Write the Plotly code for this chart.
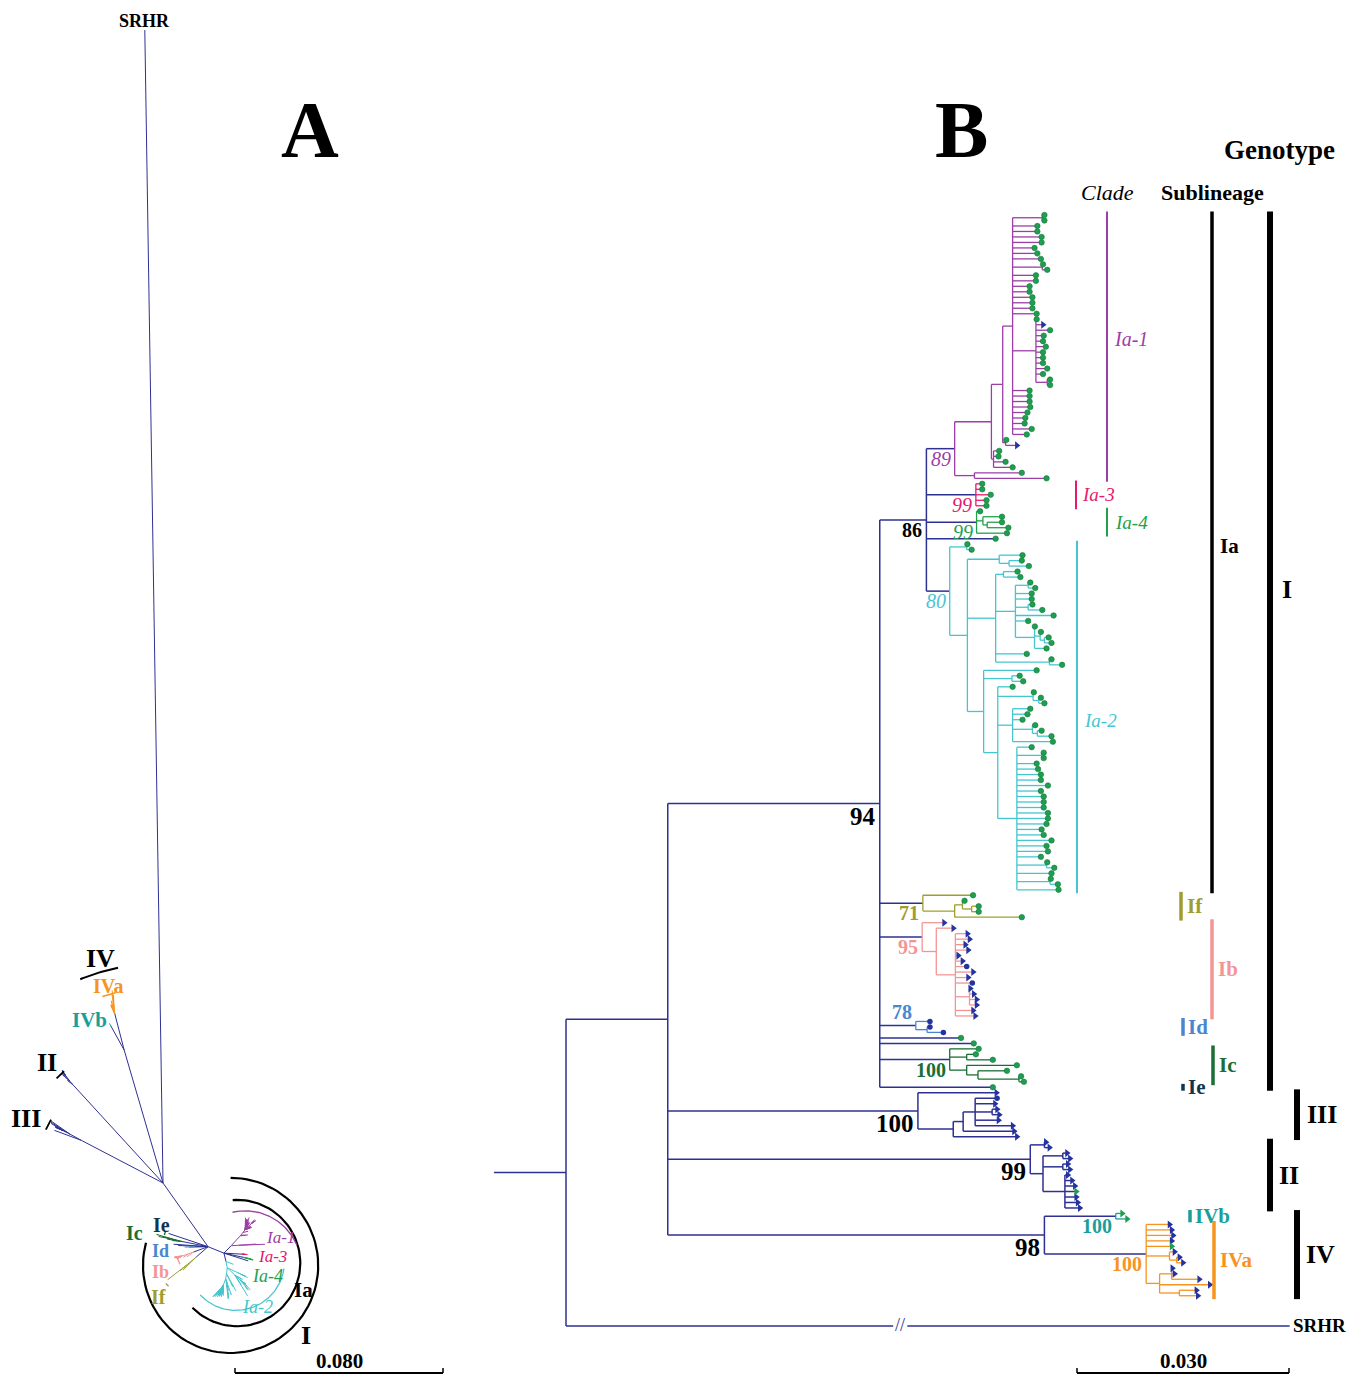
import math
import plotly.graph_objects as go

W, H = 1366, 1378

# ======================= DATA =======================
# Branch lengths in 0.001 substitutions/site; internal-node labels are bootstrap values (%).
# Tip codes: g = green circle, b = blue circle, t = blue triangle, G = green triangle
clade_Ia1 = ("(((((g:0.3,g:0.3):4.2,g:3.5,g:3.5,g:4.1,g:4.1,g:3.1,g:3.5,g:4.0,(g:0.1,g:0.7):4.2,"
             "g:3.3,g:3.3,g:2.4,g:2.4,g:2.8,g:2.8,g:2.8,g:3.4,"
             "(g:0.1,t:1.0,g:2.0,g:1.1,g:1.0,g:1.4,g:1.0,g:1.0,g:1.0,g:1.6,g:1.0,(g:0.4,g:0.4):1.6):3.3,"
             "g:2.4,g:2.4,g:2.4,g:2.5,g:2.1,g:1.8,g:1.7,g:2.7,g:2.0"
             "):1.4,(g:0.1,t:1.6):0.4):1.6,(g:0.8,g:0.7,g:1.7,g:2.7):0.3):5.2,(g:6.7,g:10.2):2.8)89:4.0")
clade_Ia3 = "(g:0.9,g:0.9,g:2.1,g:1.5,g:1.5)99:7.0"
clade_Ia4 = "(g:0.5,(g:2.7,(g:2.1,g:3.0):0.6):0.9,g:4.3)99:7.1"
clade_Ia2 = ("((g:0.1,g:0.7):2.4,("
             "(g:3.3,(g:1.8,g:2.8):1.4):4.5,"
             "((g:2.0,g:2.4):1.1,((g:0.3,g:1.0):1.8,g:2.3,g:2.3,(g:0.6,g:2.0):1.8,g:5.4,g:1.8,"
             "(g:0.05,(g:0.1,(g:0.6,g:1.0):0.6):0.8,g:1.7):2.7):2.8,g:4.4,(g:0.3,g:1.8):7.6):4.0,"
             "(g:7.5,(g:1.1,g:1.6):4.0,(g:2.1,(g:0.1,(g:0.3,g:0.8):0.8):5.0,"
             "(g:2.5,g:2.1,g:1.4,(g:0.4,(g:0.6,g:2.0):0.7):2.8,g:5.7):2.1,"
             "(g:2.1,(g:0.3,g:0.3):3.5,g:2.8,g:3.0,g:3.4,g:3.4,g:4.4,g:3.4,g:3.8,g:3.8,g:3.8,g:4.4,"
             "g:4.4,g:4.2,g:3.5,g:3.8,g:4.9,g:4.2,g:4.4,g:3.4,(g:0.1,g:1.1):4.2,g:4.9,(g:0.1,g:1.1):4.7,g:5.9):2.7"
             "):2.0):2.3"
             "):2.5)80:3.3")
clade_If = "(g:7.1,((g:0.3,(g:1.0,g:1.0):1.3):1.1,g:9.5):4.5)71:6.1"
clade_Ib = ("(t:3.1,(t:2.4,(t:1.7,t:2.0,t:1.4,t:1.8,t:0.4,t:1.0,b:1.6,t:2.5,t:1.8,b:2.4,"
            "(t:0.1,t:0.6,t:1.0,t:1.0):2.0,t:2.5,t:2.8):2.7):2.0)95:6.0")
clade_Id = "(b:2.0,(b:0.4,b:2.3):1.6)78:5.1"
clade_Ic = "(g:4.1,(g:1.3,g:3.7):2.4,(g:7.1,(g:4.1,(g:0.3,g:0.7):5.8):1.6):2.4)100:9.9"
clade_Ie = "g:16.0"
clade_III = "(t:11.1,(((b:3.1,t:2.8,(t:0.7,t:1.0):2.4,t:3.3,t:5.3):1.7,t:7.2):1.4,t:9.0):5.0)100:35.4"
clade_II = ("((t:0.2,t:0.7):2.0,((t:0.6,t:1.0):2.8,(t:0.7,t:1.0):2.8,"
            "(t:0.4,t:1.0,t:1.4,G:1.6,t:1.6,t:1.8,t:2.1):3.1):1.8)99:51.3")
clade_IVb = "(G:0.9,G:1.6)100:10.1"
clade_IVa = ("(t:3.3,t:3.6,t:3.8,t:3.6,G:3.6,(t:0.7,(t:0.4,t:0.9):1.0):3.3,"
             "((t:0.1,t:0.4,t:3.9):1.7,t:7.1,(t:2.4,t:2.6):2.8):1.9)100:14.4")
backbone = ("((((Ia-1,Ia-3,Ia-4,g:9.8,Ia-2)86:6.6,If,Ib,Id,g:11.5,g:13.3,Ic,Ie)94:30.0,"
            "III,II,(IVb,IVa)98:53.3):14.4,SRHR:429.1)")

clade_names = ["Ia-1", "Ia-3", "Ia-4", "Ia-2", "If", "Ib", "Id", "Ic", "Ie", "III", "II", "IVb", "IVa"]
clade_trees = [clade_Ia1, clade_Ia3, clade_Ia4, clade_Ia2, clade_If, clade_Ib, clade_Id, clade_Ic,
               clade_Ie, clade_III, clade_II, clade_IVb, clade_IVa]
OUTGROUP = "SRHR"
scale_B = 0.030
scale_A = 0.080

# ======================= STYLE / LAYOUT =======================
NAVY = "#2E3192"
clade_colors = {"Ia-1": "#9B3FA6", "Ia-3": "#E8196A", "Ia-4": "#23A14A", "Ia-2": "#45C6CF",
                "If": "#9E9E30", "Ib": "#F49595", "Id": "#4A86D0", "Ic": "#1B6E35", "Ie": NAVY,
                "III": NAVY, "II": NAVY, "IVb": "#1A9E9A", "IVa": "#F7941D"}
label_colors = dict(clade_colors, Ie="#0F3553", III="black", II="black")
FONT = "Liberation Serif, Times New Roman, serif"

# panel B pixel geometry
B_ROOT_PX, B_PPU, B_TOP_PX, B_LEAF_PX = 566, 212 / 30.0, 215, 5.486
root_stub = 10.2          # drawn stub to the left of the root
srhr_cap = 102.4          # truncated outgroup branch in panel B
srhr_break = 47.3         # position of the "//" break
outgroup_gap = 4.5        # extra leaf slots before the outgroup
# panel A pixel geometry
A_O_PX, A_PPU = (163, 1183), 208 / 80.0
start_angle = 90.0


def parse(s):
    i = 0

    def node():
        nonlocal i
        n = {"ch": [], "name": "", "bl": 0.0, "clade": None}
        if s[i] == "(":
            i += 1
            n["ch"].append(node())
            while s[i] == ",":
                i += 1
                n["ch"].append(node())
            i += 1
        j = i
        while i < len(s) and s[i] not in ",():;":
            i += 1
        n["name"] = s[j:i]
        if i < len(s) and s[i] == ":":
            i += 1
            j = i
            while i < len(s) and s[i] not in ",();":
                i += 1
            n["bl"] = float(s[j:i])
        return n
    return node()


def tag(n, clade):
    n["clade"] = clade
    for c in n["ch"]:
        tag(c, clade)


subtrees = {}
for nm, nw in zip(clade_names, clade_trees):
    t = parse(nw)
    tag(t, nm)
    subtrees[nm] = t


def graft(n):
    new = []
    for c in n["ch"]:
        if not c["ch"] and c["name"] in subtrees:
            new.append(subtrees[c["name"]])
        else:
            graft(c)
            new.append(c)
    n["ch"] = new


root = parse(backbone)
graft(root)


def color_of(n):
    return clade_colors[n["clade"]] if n["clade"] else NAVY


# ---------------- panel B layout (rectangular) ----------------
leaf_list = []
cnt = [0.0]


def layout_b(n, x, parent):
    n["x"] = x
    n["parent"] = parent
    if not n["ch"]:
        if n["name"] == OUTGROUP:
            cnt[0] += outgroup_gap
        n["y"] = cnt[0]
        cnt[0] += 1
        leaf_list.append(n)
    else:
        for c in n["ch"]:
            bl = min(c["bl"], srhr_cap) if c["name"] == OUTGROUP else c["bl"]
            layout_b(c, x + bl, n)
        n["y"] = (n["ch"][0]["y"] + n["ch"][-1]["y"]) / 2


layout_b(root, 0.0, None)

segB = {}


def addseg(d, col, seg):
    d.setdefault(col, []).append(seg)


def draw_b(n):
    for c in n["ch"]:
        col = color_of(n)
        if c["name"] == OUTGROUP:
            addseg(segB, col, (n["x"], c["y"], srhr_break - 1.0, c["y"]))
            addseg(segB, col, (srhr_break + 1.0, c["y"], c["x"], c["y"]))
        else:
            addseg(segB, col, (n["x"], c["y"], c["x"], c["y"]))
        draw_b(c)
    if n["ch"]:
        addseg(segB, color_of(n), (n["x"], n["ch"][0]["y"], n["x"], n["ch"][-1]["y"]))


draw_b(root)
addseg(segB, NAVY, (-root_stub, root["y"], 0.0, root["y"]))

# ---------------- panel A layout (unrooted, equal-angle) ----------------
def nleaves(n):
    return 1 if not n["ch"] else sum(nleaves(c) for c in n["ch"])


segA = {}


def place_a(n, x, y, a0, a1):
    n["ax"], n["ay"] = x, y
    if not n["ch"]:
        return
    tot = nleaves(n)
    a = a0
    for c in reversed(n["ch"]):
        span = (a1 - a0) * nleaves(c) / tot
        th = math.radians(a + span / 2)
        cx, cy = x + c["bl"] * math.cos(th), y + c["bl"] * math.sin(th)
        addseg(segA, color_of(n), (x, y, cx, cy))
        place_a(c, cx, cy, a, a + span)
        a += span


ingroup, srhr = root["ch"][0], root["ch"][1]
ingroup["ax"], ingroup["ay"] = 0.0, 0.0
nbrs = [(srhr, ingroup["bl"] + srhr["bl"])] + [(c, c["bl"]) for c in reversed(ingroup["ch"])]
total = sum(nleaves(c) for c, _ in nbrs)
a = start_angle
for c, bl in nbrs:
    span = 360.0 * nleaves(c) / total
    th = math.radians(a + span / 2)
    cx, cy = bl * math.cos(th), bl * math.sin(th)
    addseg(segA, NAVY, (0, 0, cx, cy))
    place_a(c, cx, cy, a, a + span)
    a += span
GI = ingroup["ch"][0]

# ======================= FIGURE =======================
fig = go.Figure()


def add_lines(d, xa, ya, width_fn):
    for col, segs in d.items():
        xs, ys = [], []
        for x0, y0, x1, y1 in segs:
            xs += [x0, x1, None]
            ys += [y0, y1, None]
        fig.add_trace(go.Scatter(x=xs, y=ys, mode="lines", line=dict(color=col, width=width_fn(col)),
                                 xaxis=xa, yaxis=ya, hoverinfo="skip", showlegend=False))


add_lines(segA, "x", "y", lambda c: 1.0)
add_lines(segB, "x2", "y2", lambda c: 1.5 if c == NAVY else 1.3)

# arcs in panel A: (center, radius, angle0, angle1, color, width)
arcs_A = [((26.0, -31.7), 33.7, 165, 450, "black", 2.2),
          ((28.5, -30.8), 24.3, 225, 454, "black", 2.2),
          ((31.6, -32.3), 21.6, 23, 103, clade_colors["Ia-1"], 1.3),
          ((28.0, -30.3), 18.7, 223, 352, clade_colors["Ia-2"], 1.3),
          ("O", 84.6, 101.8, 112.1, "black", 2.0),
          ("O", 75.4, 104.0, 108.0, clade_colors["IVa"], 1.5),
          ("O", 57.4, 131.5, 135.5, "black", 1.8),
          ("O", 49.5, 150.5, 155.5, "black", 1.8),
          ("GI", 12.7, 198, 212, clade_colors["Ib"], 1.3),
          ("GI", 21.5, 221, 225, clade_colors["If"], 1.3),
          ("GI", 17.4, 160, 165, clade_colors["Ic"], 1.3)]
for cen, r, a0, a1, col, wd in arcs_A:
    if cen == "O":
        cx, cy = 0.0, 0.0
    elif cen == "GI":
        cx, cy = GI["ax"], GI["ay"]
    else:
        cx, cy = cen
    n = 80
    xs = [cx + r * math.cos(math.radians(a0 + (a1 - a0) * k / n)) for k in range(n + 1)]
    ys = [cy + r * math.sin(math.radians(a0 + (a1 - a0) * k / n)) for k in range(n + 1)]
    fig.add_trace(go.Scatter(x=xs, y=ys, mode="lines", line=dict(color=col, width=wd),
                             hoverinfo="skip", showlegend=False))

# tip markers in panel B
marker_styles = {"g": dict(symbol="circle", color="#1E9E50", size=5.5, line=dict(color="#137A3A", width=0.6)),
                 "b": dict(symbol="circle", color="#2433A0", size=5.5, line=dict(width=0)),
                 "t": dict(symbol="triangle-right", color="#2433A0", size=7, line=dict(width=0)),
                 "G": dict(symbol="triangle-right", color="#1E9E50", size=7, line=dict(width=0))}
for code, st in marker_styles.items():
    pts = [lf for lf in leaf_list if lf["name"] == code]
    fig.add_trace(go.Scatter(x=[p["x"] for p in pts], y=[p["y"] for p in pts], mode="markers",
                             marker=st, xaxis="x2", yaxis="y2", hoverinfo="skip", showlegend=False))

annotations = []
shapes = []


def txt(text, x, y, color="black", size=20, xanchor="center", yanchor="middle", xref="paper", yref="paper",
        xshift=0, yshift=0, bgcolor=None):
    d = dict(text=text, x=x, y=y, xref=xref, yref=yref, showarrow=False, xanchor=xanchor, yanchor=yanchor,
             xshift=xshift, yshift=yshift, borderpad=0, font=dict(family=FONT, size=size, color=color))
    if bgcolor:
        d["bgcolor"] = bgcolor
    annotations.append(d)


def P(xp, yp):
    return xp / W, 1 - yp / H


# bootstrap labels (panel B)
def boot(n):
    for c in n["ch"]:
        boot(c)
    if n["ch"] and n["name"]:
        big = n["parent"] is ingroup
        col = label_colors[n["clade"]] if n["clade"] else "black"
        t = n["name"]
        t = "<i>%s</i>" % t if (n["clade"] or "").startswith("Ia-") else "<b>%s</b>" % t
        above = n["name"] == "78"
        txt(t, n["x"], n["y"], col, 25 if big else 20, xanchor="right",
            yanchor="bottom" if above else "top", xref="x2", yref="y2", xshift=-3, yshift=2)


boot(root)

# group bars (panel B): label, clades, x(px), color, width(px), font size, style, label dx, label position
bars = [("Ia-1", ["Ia-1"], 1107, clade_colors["Ia-1"], 2, 20, "i", 6, 0.47),
        ("Ia-3", ["Ia-3"], 1076, clade_colors["Ia-3"], 2, 19, "i", 5, 0.5),
        ("Ia-4", ["Ia-4"], 1107, clade_colors["Ia-4"], 2, 19, "i", 7, 0.5),
        ("Ia-2", ["Ia-2"], 1077, clade_colors["Ia-2"], 2, 19, "i", 6, 0.51),
        ("Ia", ["Ia-1", "Ia-3", "Ia-4", "Ia-2"], 1212, "black", 3.5, 21, "b", 7, 0.49),
        ("If", ["If"], 1181, clade_colors["If"], 3.5, 21, "b", 5, 0.5),
        ("Ib", ["Ib"], 1212, clade_colors["Ib"], 3.5, 21, "b", 5, 0.5),
        ("Id", ["Id"], 1183, clade_colors["Id"], 3.5, 21, "b", 4, 0.5),
        ("Ic", ["Ic"], 1213, clade_colors["Ic"], 3.5, 21, "b", 5, 0.5),
        ("Ie", ["Ie"], 1183, label_colors["Ie"], 3.5, 21, "b", 4, 0.5),
        ("IVb", ["IVb"], 1190, clade_colors["IVb"], 3.5, 21, "b", 4, 0.5),
        ("IVa", ["IVa"], 1214, clade_colors["IVa"], 3.5, 21, "b", 5, 0.5),
        ("I", ["Ia-1", "Ia-3", "Ia-4", "Ia-2", "If", "Ib", "Id", "Ic", "Ie"], 1270, "black", 6, 26, "b", 11, 0.43),
        ("III", ["III"], 1297, "black", 6, 26, "b", 9, 0.5),
        ("II", ["II"], 1270, "black", 6, 26, "b", 8, 0.5),
        ("IV", ["IVb", "IVa"], 1297, "black", 6, 26, "b", 8, 0.5)]
pad = 0.62
for lab, cls, xpx, col, wd, fs, sty, dx, frac in bars:
    ys = [lf["y"] for lf in leaf_list if lf["clade"] in cls]
    y0, y1 = min(ys) - pad, max(ys) + pad
    xp = xpx / W
    shapes.append(dict(type="line", xref="paper", yref="y2", x0=xp, x1=xp, y0=y0, y1=y1,
                       line=dict(color=col, width=wd)))
    t = "<i>%s</i>" % lab if sty == "i" else "<b>%s</b>" % lab
    txt(t, xp, y0 + (y1 - y0) * frac, col, fs, xanchor="left", yref="y2", xshift=dx)

# headers and panel letters
txt("<b>A</b>", *P(310, 130), size=80)
txt("<b>B</b>", *P(961, 130), size=80)
txt("<b>Genotype</b>", *P(1279, 150), size=27)
txt("<b>Sublineage</b>", *P(1212, 192), size=22)
txt("<i>Clade</i>", *P(1107, 192), size=22)
# outgroup labels
txt("<b>SRHR</b>", srhr["x"], srhr["y"], size=19, xanchor="left", xref="x2", yref="y2", xshift=2)
txt("<b>SRHR</b>", srhr["ax"], srhr["ay"], size=18, yanchor="bottom", xref="x", yref="y", yshift=-2)
txt("//", srhr_break, srhr["y"], NAVY, 18, xref="x2", yref="y2", yshift=1)

# panel A labels: text, x(px), y(px), color, size
labels_A = [("<b>IV</b>", 100, 958, "black", 26), ("<b>IVa</b>", 108, 986, clade_colors["IVa"], 20),
            ("<b>IVb</b>", 89, 1020, clade_colors["IVb"], 21), ("<b>II</b>", 47, 1062, "black", 26),
            ("<b>III</b>", 26, 1118, "black", 26), ("<b>Ic</b>", 134, 1233, clade_colors["Ic"], 20),
            ("<b>Ie</b>", 161, 1225, label_colors["Ie"], 20), ("<b>Id</b>", 160, 1251, clade_colors["Id"], 18),
            ("<b>Ib</b>", 160, 1272, clade_colors["Ib"], 18), ("<b>If</b>", 158, 1297, clade_colors["If"], 20),
            ("<i>Ia-1</i>", 280, 1237, clade_colors["Ia-1"], 17), ("<i>Ia-3</i>", 272, 1256, clade_colors["Ia-3"], 17),
            ("<i>Ia-4</i>", 267, 1276, clade_colors["Ia-4"], 18), ("<i>Ia-2</i>", 257, 1307, clade_colors["Ia-2"], 18),
            ("<b>Ia</b>", 303, 1290, "black", 21), ("<b>I</b>", 306, 1335, "black", 26)]
for t, xp, yp, col, fs in labels_A:
    txt(t, *P(xp, yp), col, fs)

# scale bars
scaleB_x0 = (1077 - B_ROOT_PX) / B_PPU
scaleA_x0 = (235 - A_O_PX[0]) / A_PPU
for xa, x0, L, lab in [("x2", scaleB_x0, scale_B * 1000, "0.030"), ("x", scaleA_x0, scale_A * 1000, "0.080")]:
    yb = 1 - 1373 / H
    shapes.append(dict(type="line", xref=xa, yref="paper", x0=x0, x1=x0 + L, y0=yb, y1=yb,
                       line=dict(color="black", width=2)))
    for xx in (x0, x0 + L):
        shapes.append(dict(type="line", xref=xa, yref="paper", x0=xx, x1=xx, y0=yb, y1=yb + 5 / H,
                           line=dict(color="black", width=1.5)))
    txt("<b>%s</b>" % lab, x0 + L / 2, 1 - 1361 / H, size=21, xref=xa)

# axes ranges map data units onto the page
xA = [-A_O_PX[0] / A_PPU, (W - A_O_PX[0]) / A_PPU]
yA = [(A_O_PX[1] - H) / A_PPU, A_O_PX[1] / A_PPU]
xB = [-B_ROOT_PX / B_PPU, (W - B_ROOT_PX) / B_PPU]
yB = [(H - B_TOP_PX) / B_LEAF_PX, -B_TOP_PX / B_LEAF_PX]

fig.update_layout(
    width=W, height=H, margin=dict(l=0, r=0, t=0, b=0), paper_bgcolor="white", plot_bgcolor="white",
    showlegend=False,
    xaxis=dict(domain=[0, 1], range=xA, visible=False, fixedrange=True),
    yaxis=dict(domain=[0, 1], range=yA, visible=False, fixedrange=True),
    xaxis2=dict(domain=[0, 1], range=xB, visible=False, overlaying="x", anchor="y2", fixedrange=True),
    yaxis2=dict(domain=[0, 1], range=yB, visible=False, overlaying="y", anchor="x2", fixedrange=True),
    annotations=annotations, shapes=shapes,
)

fig.write_html("out.html", config={"displayModeBar": False},
               post_script="document.body.style.margin='0px';")
